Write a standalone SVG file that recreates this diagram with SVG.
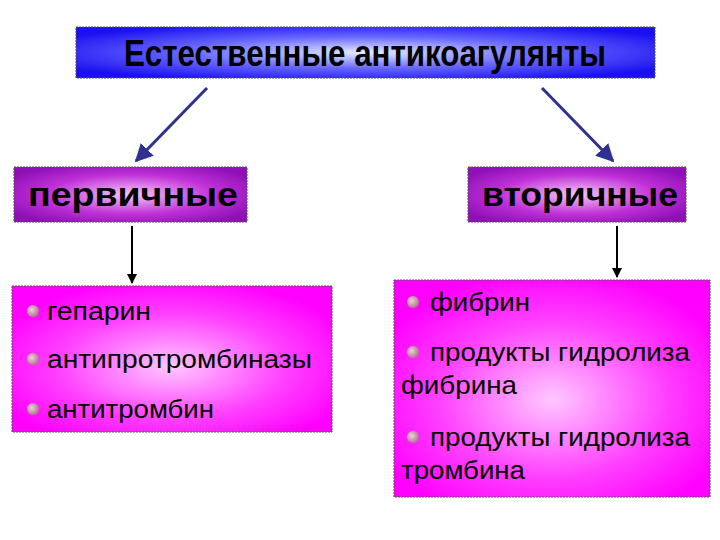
<svg xmlns="http://www.w3.org/2000/svg" width="720" height="540" viewBox="0 0 720 540">
<defs>
<radialGradient id="gb" cx="50%" cy="50%" r="60%"><stop offset="0" stop-color="#e8ecff"/><stop offset="0.5" stop-color="#6a6aff"/><stop offset="1" stop-color="#1a10f0"/></radialGradient>
<radialGradient id="gv" cx="50%" cy="50%" r="60%"><stop offset="0" stop-color="#f6c8f6"/><stop offset="0.6" stop-color="#c030d8"/><stop offset="1" stop-color="#9010b8"/></radialGradient>
<radialGradient id="gp" cx="50%" cy="55%" r="60%"><stop offset="0" stop-color="#ffc8ff"/><stop offset="0.6" stop-color="#ff40ff"/><stop offset="1" stop-color="#ff00ff"/></radialGradient>
<radialGradient id="dot" cx="40%" cy="40%" r="60%"><stop offset="0" stop-color="#f0d0d8"/><stop offset="1" stop-color="#b07890"/></radialGradient>
<marker id="ab" viewBox="0 0 10 10" refX="9" refY="5" markerWidth="6" markerHeight="6" orient="auto"><path d="M0,0L10,5L0,10z" fill="#303090"/></marker>
<marker id="ak" viewBox="0 0 10 10" refX="9" refY="5" markerWidth="5" markerHeight="6" orient="auto"><path d="M0,0L10,5L0,10z" fill="#000"/></marker>
</defs>
<style>
.bx{stroke:#555;stroke-width:1;stroke-dasharray:2 1}
.t{font-family:"Liberation Sans",Arial,sans-serif;fill:#000}
.h{font-size:33px;font-weight:bold}
.l{font-size:25px}
</style>
<rect width="720" height="540" fill="#fff"/>
<g id="title"><rect class="bx" x="76" y="27" width="579" height="51" fill="url(#gb)"/>
<text class="t" x="365" y="66" font-size="37" font-weight="bold" text-anchor="middle" textLength="482" lengthAdjust="spacingAndGlyphs">Естественные антикоагулянты</text></g>
<g id="primary"><rect class="bx" x="14" y="167" width="233" height="55" fill="url(#gv)"/>
<text class="t h" x="28" y="206" textLength="210" lengthAdjust="spacingAndGlyphs">первичные</text></g>
<g id="secondary"><rect class="bx" x="468" y="167" width="218" height="55" fill="url(#gv)"/>
<text class="t h" x="482" y="206" textLength="196" lengthAdjust="spacingAndGlyphs">вторичные</text></g>
<g id="list1"><rect class="bx" x="12" y="286" width="320" height="146" fill="url(#gp)"/>
<circle cx="33" cy="311" r="6" fill="url(#dot)"/><text class="t l" x="47" y="320" textLength="104" lengthAdjust="spacingAndGlyphs">гепарин</text>
<circle cx="33" cy="359" r="6" fill="url(#dot)"/><text class="t l" x="47" y="368" textLength="265" lengthAdjust="spacingAndGlyphs">антипротромбиназы</text>
<circle cx="33" cy="409" r="6" fill="url(#dot)"/><text class="t l" x="47" y="418" textLength="167" lengthAdjust="spacingAndGlyphs">антитромбин</text></g>
<g id="list2"><rect class="bx" x="394" y="280" width="316" height="217" fill="url(#gp)"/>
<circle cx="413" cy="302" r="6" fill="url(#dot)"/><text class="t l" x="430" y="311" textLength="100" lengthAdjust="spacingAndGlyphs">фибрин</text>
<circle cx="413" cy="352" r="6" fill="url(#dot)"/><text class="t l" x="430" y="361" textLength="260" lengthAdjust="spacingAndGlyphs">продукты гидролиза</text>
<text class="t l" x="401" y="394" textLength="116" lengthAdjust="spacingAndGlyphs">фибрина</text>
<circle cx="413" cy="437" r="6" fill="url(#dot)"/><text class="t l" x="430" y="446" textLength="260" lengthAdjust="spacingAndGlyphs">продукты гидролиза</text>
<text class="t l" x="401" y="479" textLength="124" lengthAdjust="spacingAndGlyphs">тромбина</text></g>
<g id="connectors" fill="none">
<line x1="207" y1="88" x2="136" y2="161" stroke="#303090" stroke-width="3" marker-end="url(#ab)"/>
<line x1="542" y1="88" x2="613" y2="161" stroke="#303090" stroke-width="3" marker-end="url(#ab)"/>
<line x1="132" y1="226" x2="132" y2="283" stroke="#000" stroke-width="2" marker-end="url(#ak)"/>
<line x1="617" y1="226" x2="617" y2="277" stroke="#000" stroke-width="2" marker-end="url(#ak)"/>
</g>
</svg>
